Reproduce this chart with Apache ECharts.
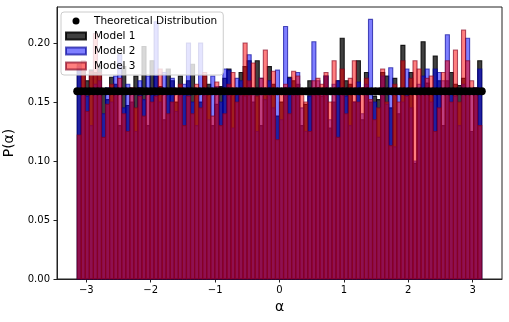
<!DOCTYPE html>
<html>
<head>
<meta charset="utf-8">
<script src="https://cdn.jsdelivr.net/npm/echarts@6/dist/echarts.min.js"></script>
<style>
  html, body { margin: 0; padding: 0; background: #fff; }
  #chart { width: 509px; height: 322px; }
</style>
</head>
<body>
<div id="chart"></div>
<script>
// tick labels
const xTicks = [-3, -2, -1, 0, 1, 2, 3];
const yTicks = [0, 0.05, 0.10, 0.15, 0.20];

// histogram densities, 100 bins over [-pi, pi]
const model1 = [
  0.182, 0.176, 0.168, 0.177, 0.175, 0.181, 0.160, 0.152, 0.171, 0.165,
  0.130, 0.180, 0.147, 0.150, 0.172, 0.162, 0.197, 0.130, 0.185, 0.172,
  0.163, 0.135, 0.178, 0.168, 0.150, 0.172, 0.160, 0.168, 0.182, 0.158,
  0.150, 0.172, 0.165, 0.130, 0.148, 0.163, 0.170, 0.178, 0.158, 0.160,
  0.175, 0.180, 0.185, 0.150, 0.185, 0.130, 0.160, 0.180, 0.165, 0.138,
  0.150, 0.162, 0.171, 0.168, 0.165, 0.130, 0.148, 0.168, 0.158, 0.162,
  0.155, 0.172, 0.128, 0.150, 0.168, 0.204, 0.168, 0.165, 0.150, 0.185,
  0.135, 0.175, 0.150, 0.155, 0.152, 0.175, 0.172, 0.145, 0.170, 0.140,
  0.198, 0.160, 0.175, 0.098, 0.158, 0.201, 0.166, 0.160, 0.189, 0.168,
  0.130, 0.168, 0.175, 0.165, 0.164, 0.170, 0.160, 0.125, 0.158, 0.185
];
const model2 = [
  0.180, 0.160, 0.155, 0.130, 0.165, 0.168, 0.140, 0.162, 0.150, 0.172,
  0.190, 0.145, 0.165, 0.158, 0.125, 0.168, 0.152, 0.172, 0.160, 0.218,
  0.150, 0.175, 0.160, 0.170, 0.142, 0.158, 0.165, 0.200, 0.150, 0.130,
  0.200, 0.160, 0.135, 0.172, 0.163, 0.150, 0.178, 0.177, 0.128, 0.170,
  0.168, 0.155, 0.190, 0.158, 0.125, 0.170, 0.152, 0.168, 0.145, 0.177,
  0.135, 0.214, 0.170, 0.158, 0.175, 0.145, 0.125, 0.155, 0.201, 0.168,
  0.160, 0.172, 0.135, 0.165, 0.168, 0.162, 0.155, 0.130, 0.150, 0.167,
  0.140, 0.165, 0.220, 0.150, 0.120, 0.172, 0.148, 0.179, 0.112, 0.160,
  0.150, 0.178, 0.145, 0.100, 0.165, 0.172, 0.178, 0.150, 0.178, 0.175,
  0.168, 0.207, 0.160, 0.155, 0.130, 0.165, 0.204, 0.158, 0.162, 0.178
];
const model3 = [
  0.122, 0.185, 0.142, 0.176, 0.208, 0.175, 0.120, 0.148, 0.165, 0.158,
  0.170, 0.140, 0.125, 0.162, 0.145, 0.155, 0.138, 0.160, 0.150, 0.155,
  0.178, 0.160, 0.140, 0.150, 0.158, 0.165, 0.130, 0.155, 0.140, 0.165,
  0.145, 0.175, 0.160, 0.138, 0.167, 0.130, 0.140, 0.165, 0.175, 0.150,
  0.160, 0.200, 0.168, 0.183, 0.155, 0.170, 0.194, 0.160, 0.176, 0.118,
  0.158, 0.165, 0.140, 0.176, 0.172, 0.160, 0.150, 0.125, 0.168, 0.170,
  0.165, 0.175, 0.150, 0.185, 0.120, 0.178, 0.140, 0.170, 0.185, 0.150,
  0.162, 0.170, 0.152, 0.135, 0.145, 0.178, 0.150, 0.113, 0.165, 0.150,
  0.185, 0.155, 0.170, 0.185, 0.178, 0.160, 0.170, 0.172, 0.125, 0.145,
  0.175, 0.185, 0.150, 0.194, 0.150, 0.211, 0.185, 0.168, 0.162, 0.130
];
// flat theoretical density (1 / 2pi)
const theoryLevel = 0.1592;
const theoryPoints = 100;

const nBins = model1.length;
const binW = 2 * Math.PI / nBins;
const edges = [];
for (let i = 0; i <= nBins; i++) edges.push(-Math.PI + i * binW);

const theory = [];
for (let i = 0; i < theoryPoints; i++) {
  theory.push([-Math.PI + i * 2 * Math.PI / (theoryPoints - 1), theoryLevel]);
}

const font = 'DejaVu Sans';

function histSeries(name, values, color, edge) {
  return {
    name: name,
    type: 'custom',
    itemStyle: { color: color, borderColor: edge, borderWidth: 1 },
    encode: { x: [0, 1], y: 2 },
    data: values.map((v, i) => [edges[i], edges[i + 1], v]),
    renderItem: function (params, api) {
      const p0 = api.coord([api.value(0), api.value(2)]);
      const p1 = api.coord([api.value(1), 0]);
      return {
        type: 'rect',
        shape: { x: p0[0], y: p0[1], width: p1[0] - p0[0], height: p1[1] - p0[1] },
        style: { fill: color, stroke: edge, lineWidth: 1.1 }
      };
    }
  };
}

const chart = echarts.init(document.getElementById('chart'));
chart.setOption({
  animation: false,
  backgroundColor: '#fff',
  grid: {
    left: 57, right: 7, top: 7, bottom: 43,
    outerBoundsMode: 'none', containLabel: false,
    show: true, borderColor: '#222', borderWidth: 1
  },
  legend: {
    orient: 'vertical',
    left: 61,
    top: 12,
    padding: [3, 6, 3, 4],
    itemWidth: 20,
    itemHeight: 7,
    itemGap: 3,
    backgroundColor: 'rgba(255,255,255,0.8)',
    borderColor: '#ccc',
    borderWidth: 1,
    borderRadius: 3,
    textStyle: { fontFamily: font, fontSize: 10.5, color: '#000', lineHeight: 12, padding: [0, 0, 0, 3] },
    data: [
      { name: 'Theoretical Distribution', icon: 'circle' },
      { name: 'Model 1', icon: 'rect' },
      { name: 'Model 2', icon: 'rect' },
      { name: 'Model 3', icon: 'rect' }
    ]
  },
  xAxis: {
    type: 'value',
    min: -3.456,
    max: 3.456,
    name: 'α',
    nameLocation: 'middle',
    nameGap: 20,
    nameTextStyle: { fontFamily: font, fontSize: 14, color: '#000' },
    axisLine: { show: true, onZero: false, lineStyle: { color: '#222', width: 1 } },
    axisTick: { show: true, length: 3.5, lineStyle: { color: '#222' }, customValues: xTicks },
    axisLabel: {
      fontFamily: font, fontSize: 10, color: '#000', margin: 6,
      customValues: xTicks,
      formatter: v => (v < 0 ? '\u2212' + Math.abs(v) : String(v))
    },
    splitLine: { show: false }
  },
  yAxis: {
    type: 'value',
    min: 0,
    max: 0.2305,
    name: 'P(α)',
    nameLocation: 'middle',
    nameGap: 33,
    nameTextStyle: { fontFamily: font, fontSize: 14, color: '#000' },
    axisLine: { show: true, onZero: false, lineStyle: { color: '#222', width: 1 } },
    axisTick: { show: true, length: 3.5, lineStyle: { color: '#222' }, customValues: yTicks },
    axisLabel: {
      fontFamily: font, fontSize: 10, color: '#000', margin: 7,
      customValues: yTicks,
      formatter: v => v.toFixed(2)
    },
    splitLine: { show: false }
  },
  series: [
    histSeries('Model 1', model1, 'rgba(0,0,0,0.75)', 'rgba(0,0,0,0.85)'),
    histSeries('Model 2', model2, 'rgba(0,0,255,0.5)', 'rgba(0,0,150,0.65)'),
    histSeries('Model 3', model3, 'rgba(255,0,0,0.5)', 'rgba(130,0,30,0.65)'),
    {
      name: 'Theoretical Distribution',
      type: 'scatter',
      z: 5,
      symbolSize: 8,
      itemStyle: { color: '#000', opacity: 1 },
      data: theory
    }
  ]
});
</script>
</body>
</html>
